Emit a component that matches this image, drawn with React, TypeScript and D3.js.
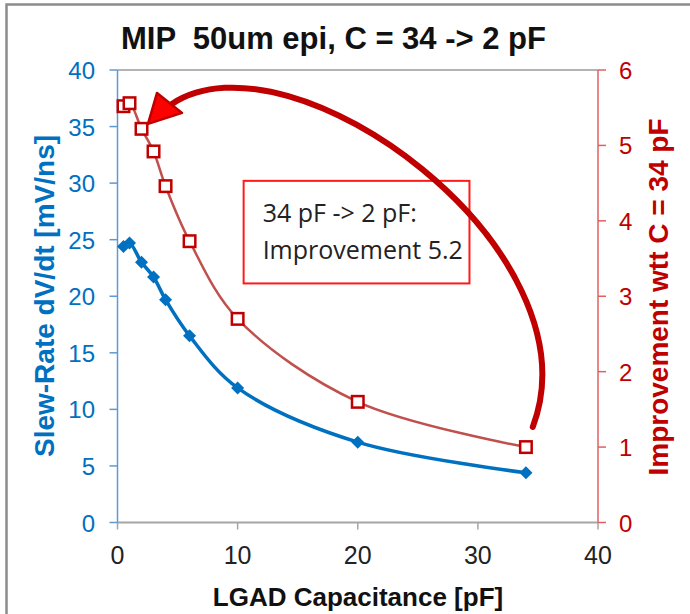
import React from "react";
import * as d3 from "d3";

const capacitance = [0.5, 1, 2, 3, 4, 6, 10, 20, 34];
const slewRate = [24.4, 24.7, 23.0, 21.7, 19.7, 16.5, 11.9, 7.1, 4.4];
const improvement = [5.52, 5.56, 5.22, 4.92, 4.46, 3.73, 2.7, 1.6, 1.0];
const xTicks = [0, 10, 20, 30, 40];
const yLeftTicks = [0, 5, 10, 15, 20, 25, 30, 35, 40];
const yRightTicks = [0, 1, 2, 3, 4, 5, 6];
// annotation arrow: cubic Bezier (start, ctrl1, ctrl2, end) in data units (x: pF, y: right axis)
const arrowX = [34.57, 40.14, 14.52, 4.53];
const arrowY = [1.267, 3.614, 6.598, 5.55];
const headX = [3.29, 5.37, 2.54];
const headY = [5.696, 5.431, 5.285];
const boxX = [10.5, 29.3];
const boxY = [4.53, 3.17];

const W = 690, H = 614;
const M = { left: 117.5, right: 92, top: 70, bottom: 91.5 };

export default function App() {
  const x = d3.scaleLinear().domain([0, 40]).range([M.left, W - M.right]);
  const yL = d3.scaleLinear().domain([0, 40]).range([H - M.bottom, M.top]);
  const yR = d3.scaleLinear().domain([0, 6]).range([H - M.bottom, M.top]);

  const blueLine = d3.line<number>()
    .x((_, i) => x(capacitance[i]))
    .y((d) => yL(d))
    .curve(d3.curveCatmullRom.alpha(0.5));
  const redLine = d3.line<number>()
    .x((_, i) => x(capacitance[i]))
    .y((d) => yR(d))
    .curve(d3.curveCatmullRom.alpha(0.5));

  const ap = d3.path();
  ap.moveTo(x(arrowX[0]), yR(arrowY[0]));
  ap.bezierCurveTo(x(arrowX[1]), yR(arrowY[1]), x(arrowX[2]), yR(arrowY[2]), x(arrowX[3]), yR(arrowY[3]));

  const x0 = x(0), x1 = x(40), yb = yL(0), yt = yL(40);
  const blue = "#0070c0";
  const red = "#c00000";

  const headPts = headX.map((hx, i) => `${x(hx)},${yR(headY[i])}`).join(" ");
  const bx0 = x(boxX[0]), bx1 = x(boxX[1]), by0 = yR(boxY[0]), by1 = yR(boxY[1]);

  return (
    <svg width={W} height={H} style={{ position: "absolute", left: 0, top: 0, background: "#fff" }}
      fontFamily="'Liberation Sans', Arial, sans-serif">
      <rect x={6.5} y={4.5} width={800} height={800} fill="none" stroke="#8c8c8c" strokeWidth={2.5} />
      <text x={121} y={49} fontSize={31} fontWeight="bold" fill="#111" style={{ whiteSpace: "pre" }}>MIP  50um epi, C = 34 -&gt; 2 pF</text>

      {/* top border */}
      <line x1={x0} x2={x1} y1={yt} y2={yt} stroke="#9a9a9a" strokeWidth={1.5} />
      {/* x axis */}
      <line x1={x0} x2={x1} y1={yb} y2={yb} stroke="#a6a6a6" strokeWidth={2} />
      {xTicks.map((t) => (
        <g key={t}>
          <line x1={x(t)} x2={x(t)} y1={yb} y2={yb + 7} stroke="#a6a6a6" strokeWidth={1.5} />
          <text x={x(t)} y={564} textAnchor="middle" fontSize={25} fill="#222">{t}</text>
        </g>
      ))}
      {/* left axis */}
      <line x1={x0} x2={x0} y1={yt} y2={yb} stroke="#5b9bd5" strokeWidth={1.5} />
      {yLeftTicks.map((t) => (
        <g key={t}>
          <line x1={x0 - 8} x2={x0} y1={yL(t)} y2={yL(t)} stroke="#5b9bd5" strokeWidth={1.5} />
          <text x={95} y={yL(t) + 9} textAnchor="end" fontSize={24} fill={blue}>{t}</text>
        </g>
      ))}
      {/* right axis */}
      <line x1={x1} x2={x1} y1={yt} y2={yb} stroke="#e06060" strokeWidth={1.5} />
      {yRightTicks.map((t) => (
        <g key={t}>
          <line x1={x1} x2={x1 + 8} y1={yR(t)} y2={yR(t)} stroke="#e06060" strokeWidth={1.5} />
          <text x={619} y={yR(t) + 9} textAnchor="start" fontSize={24} fill={red}>{t}</text>
        </g>
      ))}

      <text x={358} y={606} textAnchor="middle" fontSize={26} fontWeight="bold" fill="#111">LGAD Capacitance [pF]</text>
      <text transform={`translate(54,296) rotate(-90)`} textAnchor="middle" fontSize={28} fontWeight="bold" fill={blue}>Slew-Rate dV/dt [mV/ns]</text>
      <text transform={`translate(668,297) rotate(-90)`} textAnchor="middle" fontSize={28} fontWeight="bold" fill={red}>Improvement wtt C = 34 pF</text>

      {/* annotation box */}
      <rect x={bx0} y={by0} width={bx1 - bx0} height={by1 - by0} fill="#fff" stroke="#ff1a1a" strokeWidth={2} />
      <g fontFamily="'Open Sans', 'Noto Sans', sans-serif" fontSize={25} fill="#222">
        <text x={bx0 + 19} y={by0 + 41}>34 pF -&gt; 2 pF:</text>
        <text x={bx0 + 19} y={by0 + 78}>Improvement 5.2</text>
      </g>

      {/* series */}
      <path d={blueLine(slewRate) || ""} fill="none" stroke={blue} strokeWidth={3.5} />
      {slewRate.map((v, i) => {
        const cx = x(capacitance[i]), cy = yL(v), r = 6.5;
        return <polygon key={i} points={`${cx},${cy - r} ${cx + r},${cy} ${cx},${cy + r} ${cx - r},${cy}`} fill={blue} />;
      })}
      <path d={redLine(improvement) || ""} fill="none" stroke="#c0504d" strokeWidth={2.5} />
      {improvement.map((v, i) => {
        const cx = x(capacitance[i]), cy = yR(v), s = 11.5;
        return <rect key={i} x={cx - s / 2} y={cy - s / 2} width={s} height={s} fill="#fff" stroke={red} strokeWidth={2.5} />;
      })}

      {/* arrow */}
      <path d={ap.toString()} fill="none" stroke={red} strokeWidth={6} strokeLinecap="round" />
      <polygon points={headPts} fill="#ff0000" stroke={red} strokeWidth={2.5} strokeLinejoin="round" />
    </svg>
  );
}
